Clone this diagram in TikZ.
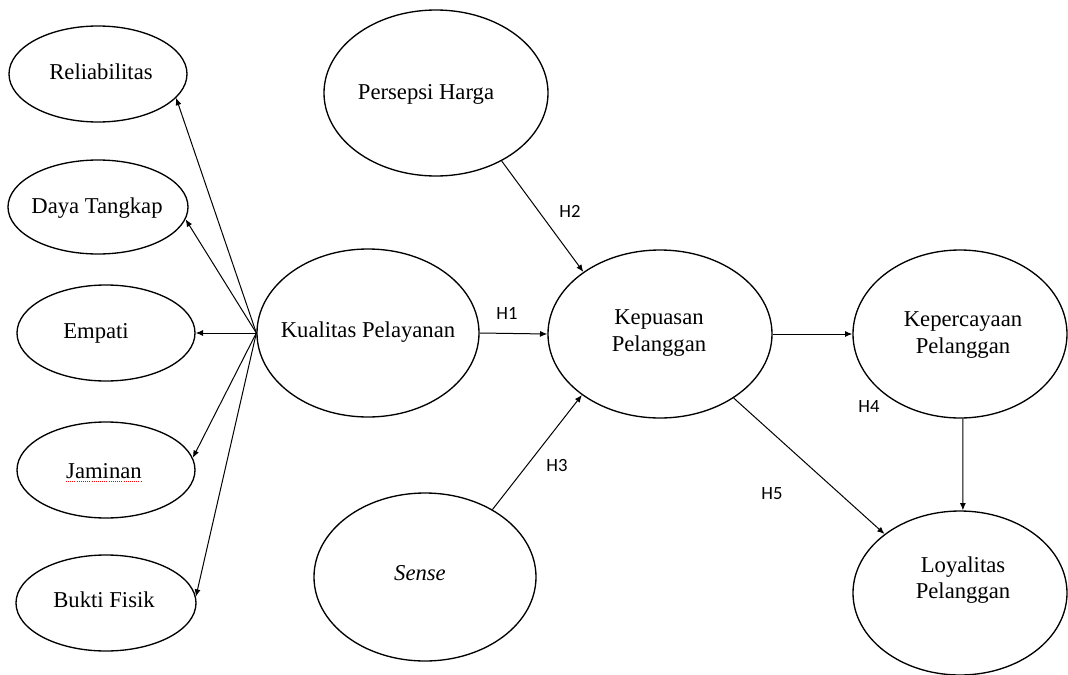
\documentclass[tikz,border=0pt]{standalone}
\usepackage{fontspec}
\setmainfont{Liberation Serif}
\newfontfamily\lblfont{Carlito}
\usetikzlibrary{arrows.meta,shapes.geometric}
\begin{document}
\begin{tikzpicture}[x=0.75pt,y=-0.75pt,
  ell/.style args={#1/#2}{draw, line width=1pt, ellipse, inner sep=0pt,
     minimum width={#1*1.5pt}, minimum height={#2*1.5pt}},
  txt/.style={inner sep=0pt, align=center, font=\fontsize{17}{20}\selectfont},
  hyp/.style={inner sep=0pt, font=\lblfont\fontsize{14}{16}\selectfont},
  arr/.style={line width=0.75pt, -{Latex[length=5.5pt,width=4.5pt]}}]
\useasboundingbox (0,0) rectangle (1068,675);

% ellipses
\node[ell=89/48]  (rel)   at (98,74)   {};
\node[ell=90/47]  (daya)  at (98,207)  {};
\node[ell=89/48]  (emp)   at (106,333) {};
\node[ell=89/48]  (jam)   at (106,470) {};
\node[ell=90/48]  (bukti) at (106,603) {};
\node[ell=111/84] (kual)  at (368,333) {};
\node[ell=112/83] (pers)  at (436,93)  {};
\node[ell=112/84] (kep)   at (660,334) {};
\node[ell=111/84] (sense) at (425,577) {};
\node[ell=107/84] (perc)  at (960,334) {};
\node[ell=107/82] (loy)   at (960,593) {};

% texts
\node[txt] (relT)   at (101,72)  {Reliabilitas};
\node[txt] (dayaT)  at (97,208)  {Daya Tangkap};
\node[txt] (empT)   at (96,333)  {Empati};
\node[txt] (jamT)   at (104,471) {Jaminan};
\node[txt] (buktiT) at (104,600) {Bukti Fisik};
\node[txt] (kualT)  at (368,332) {Kualitas Pelayanan};
\node[txt] (persT)  at (426,94)  {Persepsi Harga};
\node[txt] (kepT)   at (659,333) {Kepuasan\\Pelanggan};
\node[txt] (senseT) at (420,573) {\itshape Sense};
\node[txt] (percT)  at (963,335) {Kepercayaan\\Pelanggan};
\node[txt] (loyT)   at (963,580) {Loyalitas\\Pelanggan};
\draw[red, line width=0.6pt, densely dotted] ([yshift=-2pt]jamT.south west) -- ([yshift=-2pt]jamT.south east);

% spokes
\draw[arr] (kual.west) -- (rel.-17);
\draw[arr] (kual.west) -- (daya.-8);
\draw[arr] (kual.west) -- (emp.east);
\draw[arr] (kual.west) -- (jam.8);
\draw[arr] (kual.west) -- (bukti.4);

% structural paths
\draw[arr] (kual.east) -- (kep.west);
\draw[arr] (pers.-46) -- (kep.141.6);
\draw[arr] (sense.45.4) -- (kep.218);
\draw[arr] (kep.east) -- (perc.west);
\draw[arr] (kep.-41.6) -- (loy.142.8);
\draw[arr] (perc.-88) -- (loy.88);

% hypothesis labels
\node[hyp] (h1) at (507,313) {H1};
\node[hyp] (h2) at (570,211) {H2};
\node[hyp] (h3) at (557,466) {H3};
\node[hyp] (h4) at (869,407) {H4};
\node[hyp] (h5) at (772,494) {H5};
\end{tikzpicture}
\end{document}
